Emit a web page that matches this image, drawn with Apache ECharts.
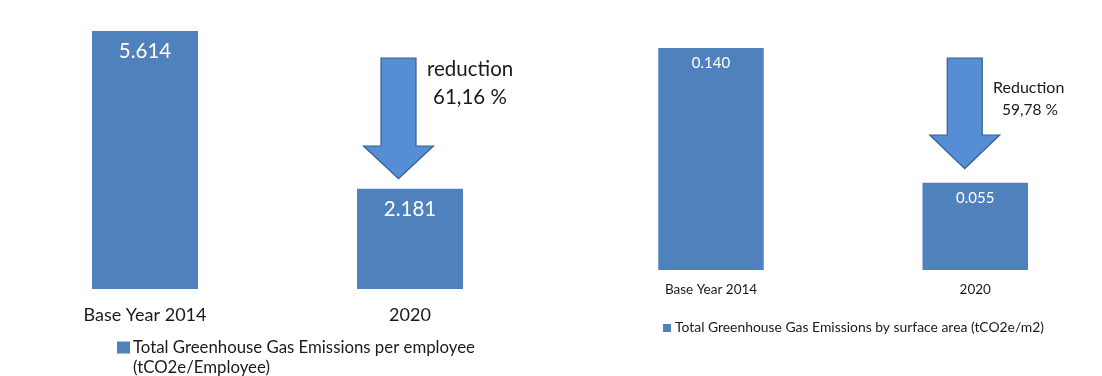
<!DOCTYPE html>
<html><head><meta charset="utf-8">
<script src="https://cdn.jsdelivr.net/npm/echarts@6/dist/echarts.min.js"></script>
<style>html,body{margin:0;padding:0;background:#fff}#c{width:1102px;height:376px}</style>
</head><body><div id="c"></div>
<script>
const categories = ['Base Year 2014', '2020'];
const perEmployee = [5.614, 2.181];
const perSurface = [0.140, 0.055];
const seriesNames = ['Total Greenhouse Gas Emissions per employee', 'Total Greenhouse Gas Emissions by surface area (tCO2e/m2)'];
const legendSecondLine = '(tCO2e/Employee)';
const reductionTexts = [['reduction', '61,16 %'], ['Reduction', '59,78 %']];

const FONT = 'Lato';
const BAR = '#4F81BD';
const chart = echarts.init(document.getElementById('c'), null, {renderer: 'canvas'});
const option = {
  animation: false,
  backgroundColor: '#fff',
  textStyle: {fontFamily: FONT},
  grid: [
    {left: 12.5, width: 530, top: 13.2, height: 275.8},
    {left: 711, width: 264.25, top: 16.3, height: 253.7}
  ],
  xAxis: [
    {type: 'category', gridIndex: 0, data: categories, axisLine: {show: false}, axisTick: {show: false},
     axisLabel: {fontFamily: FONT, fontSize: 18, color: '#1a1a1a', margin: 17}},
    {type: 'category', gridIndex: 1, data: categories, boundaryGap: false, axisLine: {show: false}, axisTick: {show: false},
     axisLabel: {fontFamily: FONT, fontSize: 13.5, color: '#1a1a1a', margin: 13}}
  ],
  yAxis: [
    {type: 'value', gridIndex: 0, min: 0, max: 6, show: false, splitLine: {show: false}},
    {type: 'value', gridIndex: 1, min: 0, max: 0.16, show: false, splitLine: {show: false}}
  ],
  legend: [
    {data: [seriesNames[0]], left: 117, top: 339, padding: 0, icon: 'rect', itemWidth: 13, itemHeight: 12, itemGap: 0,
     textStyle: {fontFamily: FONT, fontSize: 16.8, color: '#1a1a1a', padding: [0, 0, 0, -2]}},
    {data: [seriesNames[1]], left: 663, top: 321, padding: 0, icon: 'rect', itemWidth: 8, itemHeight: 8, itemGap: 0,
     textStyle: {fontFamily: FONT, fontSize: 13.9, color: '#1a1a1a', padding: [0, 0, 0, -1]}}
  ],
  series: [
    {type: 'bar', name: seriesNames[0], xAxisIndex: 0, yAxisIndex: 0, data: perEmployee, barWidth: '40%',
     itemStyle: {color: BAR},
     label: {show: true, position: 'insideTop', distance: 10, color: '#fff', fontFamily: FONT, fontSize: 20.5,
             formatter: p => p.value.toFixed(3)}},
    {type: 'bar', name: seriesNames[1], xAxisIndex: 1, yAxisIndex: 1, data: perSurface, barWidth: 105.5, clip: false,
     itemStyle: {color: BAR},
     label: {show: true, position: 'insideTop', distance: 8, color: '#fff', fontFamily: FONT, fontSize: 15,
             formatter: p => p.value.toFixed(3)}}
  ]
};
chart.setOption(option);

function arrow(cx, topY, headY, tipY, shaftHalf, headHalf) {
  return {
    type: 'polygon',
    shape: {points: [[cx - shaftHalf, topY], [cx + shaftHalf, topY], [cx + shaftHalf, headY], [cx + headHalf, headY],
                     [cx, tipY], [cx - headHalf, headY], [cx - shaftHalf, headY]]},
    style: {fill: '#558ED5', stroke: '#3A5E8C', lineWidth: 1.2},
    z: 10
  };
}
// anchor annotations to the 2020 bars
const p0 = chart.convertToPixel({gridIndex: 0}, [categories[1], perEmployee[1]]);
const p1 = chart.convertToPixel({gridIndex: 1}, [categories[1], perSurface[1]]);
const graphics = [
  arrow(p0[0] - 11.5, 58, 146, p0[1] - 10, 17.5, 35),
  arrow(p1[0] - 10.5, 58, 135, p1[1] - 14, 17.5, 35),
  {type: 'text', left: 427, top: 59, z: 11, style: {text: reductionTexts[0][0], font: '20.5px ' + FONT, fill: '#1a1a1a'}},
  {type: 'text', left: 433, top: 87, z: 11, style: {text: reductionTexts[0][1], font: '20.5px ' + FONT, fill: '#1a1a1a'}},
  {type: 'text', left: 993, top: 80, z: 11, style: {text: reductionTexts[1][0], font: '16px ' + FONT, fill: '#1a1a1a'}},
  {type: 'text', left: 1002, top: 102, z: 11, style: {text: reductionTexts[1][1], font: '15.5px ' + FONT, fill: '#1a1a1a'}},
  {type: 'text', left: 133, top: 359, z: 11, style: {text: legendSecondLine, font: '16.8px ' + FONT, fill: '#1a1a1a'}}
];
chart.setOption({graphic: graphics});
</script></body></html>
